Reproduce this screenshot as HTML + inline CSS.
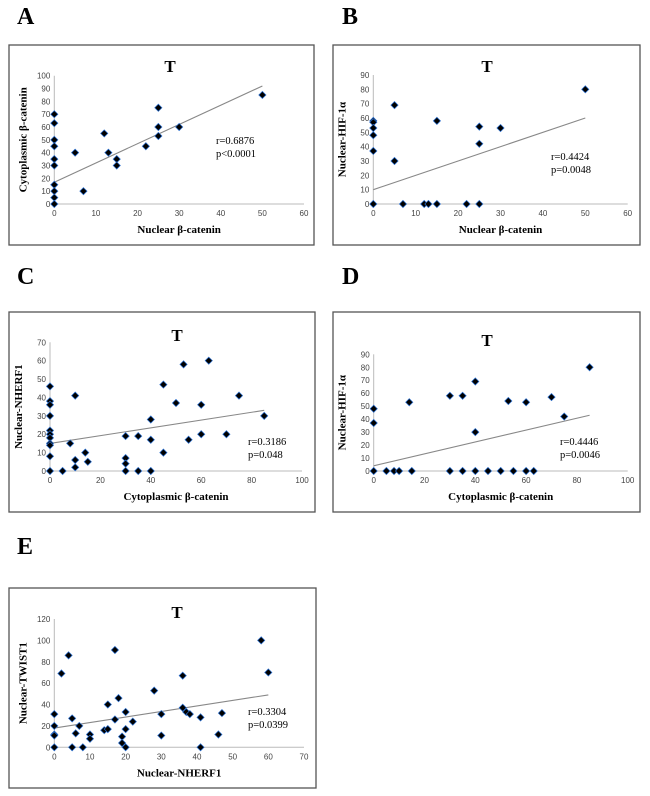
<!DOCTYPE html>
<html><head><meta charset="utf-8"><style>
body{margin:0;background:#fff;width:650px;height:796px;overflow:hidden}
svg{display:block}
</style></head><body>
<svg id="fig" width="650" height="796" xmlns="http://www.w3.org/2000/svg"></svg>
<script>
const aX=[0,0,0,0,0,0,0,0,0,0,5,7,12,13,15,15,22,25,25,25,30,50];
const aY=[70,63,50,45,35,30,15,10,5,0,40,10,55,40,35,30,45,75,60,53,60,85];
const aTrend=[17,92];
const bX=[0,0,0,0,0,0,5,5,7,12,13,15,15,22,25,25,25,30,50];
const bY=[58,57,53,48,37,0,69,30,0,0,0,58,0,0,54,42,0,53,80];
const bTrend=[10,60];
const cX=[0,0,0,0,0,0,0,0,0,0,0,5,8,10,10,10,14,15,30,30,30,30,35,35,40,40,40,45,45,50,53,55,60,60,63,70,75,85];
const cY=[46,38,36,30,22,20,18,15,14,8,0,0,15,41,6,2,10,5,19,7,4,0,19,0,28,17,0,47,10,37,58,17,36,20,60,20,41,30];
const cTrend=[15,33];
const dX=[0,0,0,5,8,10,14,15,30,30,35,35,40,40,40,45,50,53,55,60,60,63,70,75,85];
const dY=[48,37,0,0,0,0,53,0,58,0,58,0,69,30,0,0,0,54,0,53,0,0,57,42,80];
const dTrend=[4,43];
const eX=[0,0,0,0,0,2,4,5,5,6,7,8,10,10,14,15,15,17,17,18,19,19,20,20,20,22,28,30,30,36,36,37,38,41,41,46,47,58,60];
const eY=[31,20,12,11,0,69,86,27,0,13,20,0,12,8,16,40,17,91,26,46,10,4,33,17,0,24,53,31,11,67,37,33,31,28,0,12,32,100,70];
const eTrend=[18,49];

const NS="http://www.w3.org/2000/svg";
const svg=document.getElementById('fig');
function mk(tag,attrs,parent,text){const e=document.createElementNS(NS,tag);for(const k in attrs)e.setAttribute(k,attrs[k]);if(text!==undefined)e.textContent=text;(parent||svg).appendChild(e);return e;}

function panel(o){
  const g=mk('g',{});
  
  
  const L=mk('text',{x:o.lx,y:o.ly,'font-family':'Liberation Serif, serif','font-weight':'bold','font-size':'24'},g,o.letter);
  
  
  const box=mk('rect',{x:o.bx0,y:o.by0,width:o.bx1-o.bx0,height:o.by1-o.by0,fill:'#fff',stroke:'#555','stroke-width':'1.3'},g);
  
  
  const sx=v=>o.x0+(v-0)/(o.xmax)*(o.x1-o.x0);
  const sy=v=>o.y0-(v)/(o.ymax)*(o.y0-o.y1);
  // axes
  const ya=mk('line',{x1:o.x0,y1:o.y0,x2:o.x0,y2:o.y1,stroke:'#bbb','stroke-width':'1'},g);
  
  
  const xa=mk('line',{x1:o.x0,y1:o.y0,x2:o.x1,y2:o.y0,stroke:'#bbb','stroke-width':'1'},g);
  
  
  for(let v=0;v<=o.xmax;v+=o.xstep){
    const t=mk('text',{x:sx(v),y:o.y0+12,'text-anchor':'middle','font-family':'Liberation Sans, sans-serif','font-size':'8',fill:'#444'},g,String(v));
    
    
  }
  for(let v=0;v<=o.ymax;v+=o.ystep){
    const t=mk('text',{x:o.x0-4,y:sy(v)+3,'text-anchor':'end','font-family':'Liberation Sans, sans-serif','font-size':'8',fill:'#444'},g,String(v));
    
    
  }
  const T=mk('text',{x:o.tx,y:o.ty,'text-anchor':'middle','font-family':'Liberation Serif, serif','font-weight':'bold','font-size':'17'},g,'T');
  
  
  const xl=mk('text',{x:(o.x0+o.x1)/2,y:o.y0+29,'text-anchor':'middle','font-family':'Liberation Serif, serif','font-weight':'bold','font-size':'11'},g,o.xlabel);
  
  
  const ylx=o.x0-28, yly=(o.y0+o.y1)/2;
  const yl=mk('text',{x:ylx,y:yly,'text-anchor':'middle','font-family':'Liberation Serif, serif','font-weight':'bold','font-size':'11',transform:`rotate(-90 ${ylx} ${yly})`},g,o.ylabel);
  
  
  const tr=mk('line',{x1:sx(0),y1:sy(o.trend[0]),x2:sx(o.trendX),y2:sy(o.trend[1]),stroke:'#888','stroke-width':'1.1'},g);
  
  
  for(let i=0;i<o.xs.length;i++){
    const cx=sx(o.xs[i]),cy=sy(o.ys[i]),r=3.6;
    const p=mk('polygon',{points:`${cx},${cy-r} ${cx+r},${cy} ${cx},${cy+r} ${cx-r},${cy}`,fill:'#000',stroke:'#2a6fd0','stroke-width':'0.7'},g);
    
    
  }
  const a1=mk('text',{x:o.ax,y:o.ay,'font-family':'Liberation Serif, serif','font-size':'10.5'},g,o.r);
  
  
  const a2=mk('text',{x:o.ax,y:o.ay+13,'font-family':'Liberation Serif, serif','font-size':'10.5'},g,o.p);
  
  
}
panel({letter:'A',lx:17,ly:24,bx0:9,by0:45,bx1:314,by1:245,x0:54.3,x1:304,y0:204,y1:75.7,xmax:60,xstep:10,ymax:100,ystep:10,tx:170,ty:72,xlabel:'Nuclear β-catenin',ylabel:'Cytoplasmic β-catenin',xs:aX,ys:aY,trend:aTrend,trendX:50,ax:216,ay:144,r:'r=0.6876',p:'p<0.0001'});
panel({letter:'B',lx:342,ly:24,bx0:333,by0:45,bx1:640,by1:245,x0:373.3,x1:627.7,y0:204,y1:75,xmax:60,xstep:10,ymax:90,ystep:10,tx:487,ty:72,xlabel:'Nuclear β-catenin',ylabel:'Nuclear-HIF-1α',xs:bX,ys:bY,trend:bTrend,trendX:50,ax:551,ay:160,r:'r=0.4424',p:'p=0.0048'});
panel({letter:'C',lx:17,ly:284,bx0:9,by0:312,bx1:315,by1:512,x0:50,x1:302,y0:471,y1:342.3,xmax:100,xstep:20,ymax:70,ystep:10,tx:177,ty:341,xlabel:'Cytoplasmic β-catenin',ylabel:'Nuclear-NHERF1',xs:cX,ys:cY,trend:cTrend,trendX:85,ax:248,ay:445,r:'r=0.3186',p:'p=0.048'});
panel({letter:'D',lx:342,ly:284,bx0:333,by0:312,bx1:640,by1:512,x0:373.7,x1:627.7,y0:471,y1:354.3,xmax:100,xstep:20,ymax:90,ystep:10,tx:487,ty:346,xlabel:'Cytoplasmic β-catenin',ylabel:'Nuclear-HIF-1α',xs:dX,ys:dY,trend:dTrend,trendX:85,ax:560,ay:445,r:'r=0.4446',p:'p=0.0046'});
panel({letter:'E',lx:17,ly:554,bx0:9,by0:588,bx1:316,by1:788,x0:54.3,x1:304,y0:747.3,y1:619,xmax:70,xstep:10,ymax:120,ystep:20,tx:177,ty:618,xlabel:'Nuclear-NHERF1',ylabel:'Nuclear-TWIST1',xs:eX,ys:eY,trend:eTrend,trendX:60,ax:248,ay:715,r:'r=0.3304',p:'p=0.0399'});
</script>
</body></html>
